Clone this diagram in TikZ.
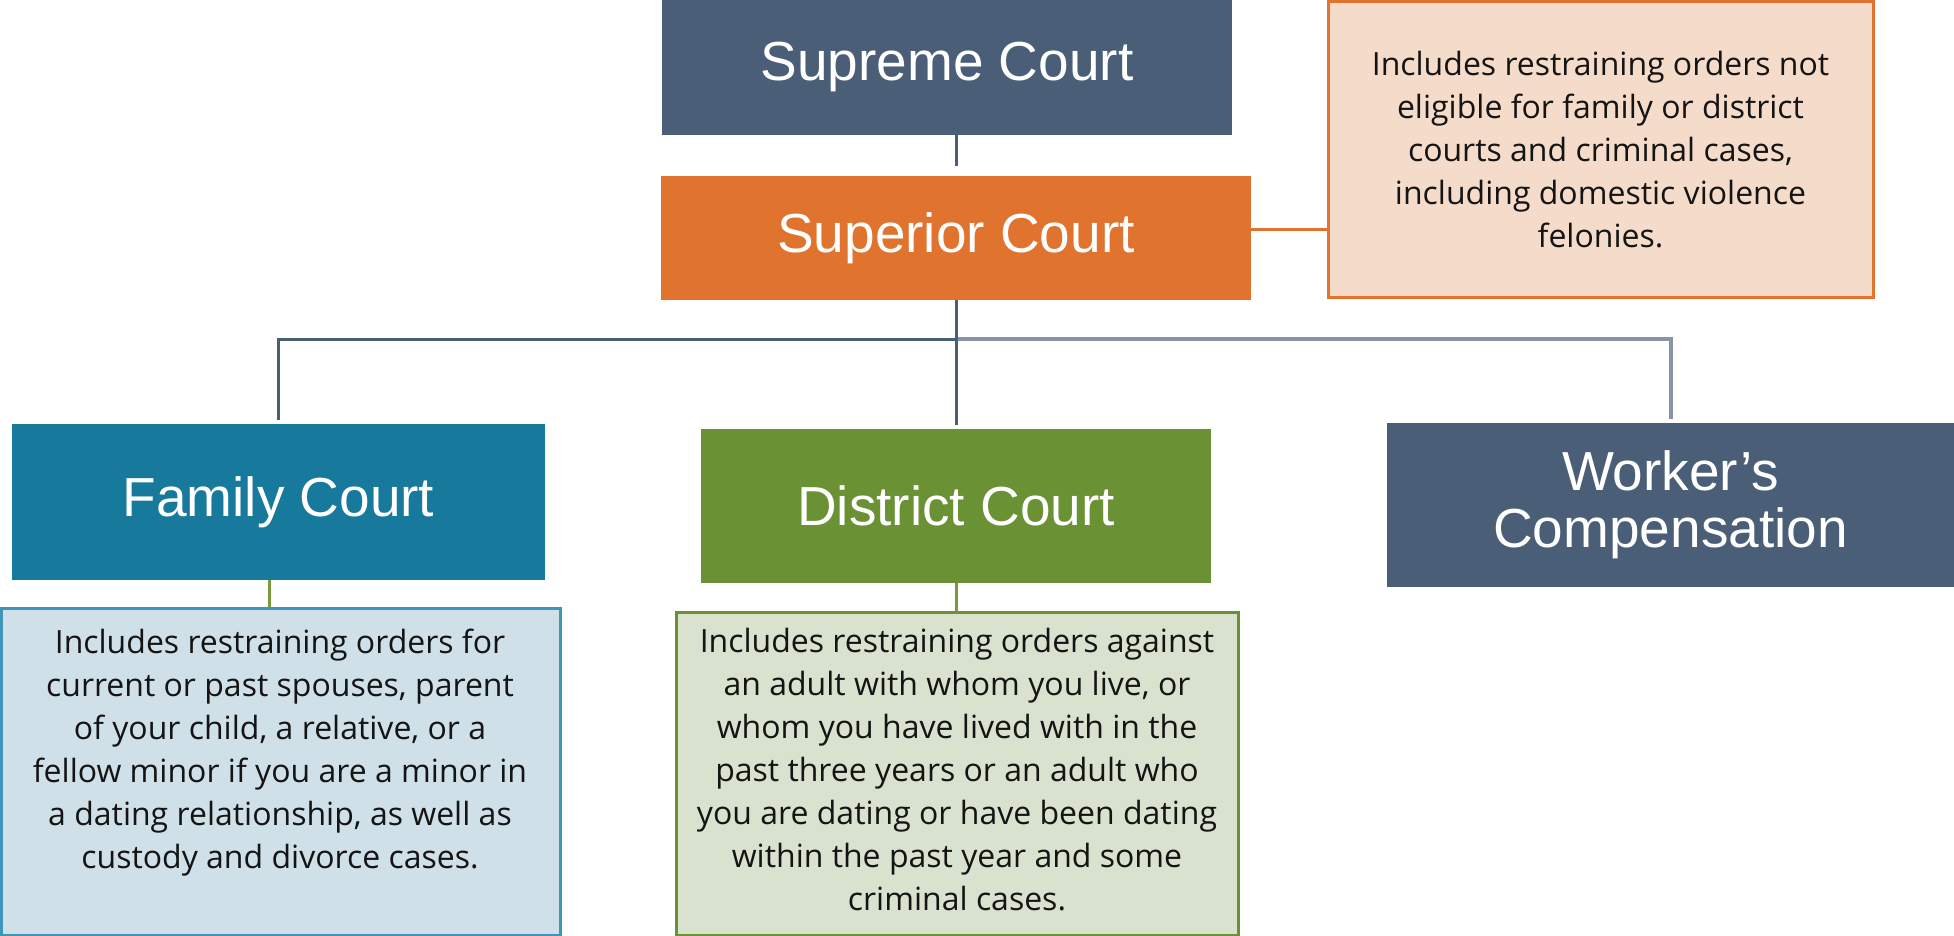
\documentclass[tikz,border=0pt]{standalone}
\usepackage{fontspec}
\setmainfont{Liberation Sans}
\newfontfamily\bodyfont{Open Sans}
\usetikzlibrary{positioning}

\definecolor{slate}{HTML}{4A5E78}
\definecolor{courtorange}{HTML}{E0742F}
\definecolor{orangefill}{HTML}{F5DBCA}
\definecolor{familyblue}{HTML}{17799C}
\definecolor{familyfill}{HTML}{D0E0E8}
\definecolor{familyedge}{HTML}{3F95B5}
\definecolor{districtgreen}{HTML}{6A9133}
\definecolor{districtfill}{HTML}{D9E1CF}
\definecolor{lightbus}{HTML}{8794A5}
\definecolor{lightdrop}{HTML}{A9B3BD}
\definecolor{stemgreen}{HTML}{7A9A3C}
\definecolor{bodyink}{HTML}{141414}

\tikzset{
  courtbox/.style={rectangle, inner sep=0pt, text=white, align=center,
    font=\fontsize{27.5}{28.6}\selectfont},
  notebox/.style={rectangle, inner sep=0pt, line width=1.5pt},
  notetext/.style={inner sep=0pt, align=center, text=bodyink,
    font=\bodyfont\fontsize{16}{21.5}\selectfont},
  slateline/.style={draw=slate, line width=1.5pt},
  orangeline/.style={draw=courtorange, line width=1.5pt},
  lightline/.style={draw=lightbus, line width=2pt},
  greenline/.style={draw=stemgreen, line width=1.5pt},
}

\begin{document}
\begin{tikzpicture}[x=0.5pt, y=-0.5pt]
  \useasboundingbox (0,0) rectangle (1954,936);

  % court boxes
  \node[courtbox, fill=slate, minimum width=285pt, minimum height=67.5pt]
    (supreme) at (947,67.5) {Supreme Court};
  \node[courtbox, fill=courtorange, minimum width=295pt, minimum height=62pt]
    (superior) at (956,238) {Superior Court};
  \node[courtbox, fill=familyblue, minimum width=266.5pt, minimum height=78pt]
    (family) at (278.5,502) {Family Court};
  \node[courtbox, fill=districtgreen, minimum width=255pt, minimum height=77pt]
    (district) at (956,506) {District Court};
  \node[courtbox, fill=slate, minimum width=283.5pt, minimum height=82pt]
    (workers) at (1670.5,505) {Worker's\\Compensation};

  % description boxes
  \node[notebox, draw=courtorange, fill=orangefill, minimum width=272.5pt, minimum height=148pt]
    (supnotebox) at (1600.5,150) {};
  \node[notetext] (supnote) at (supnotebox.center)
    {Includes restraining orders not\\eligible for family or district\\courts and criminal cases,\\including domestic violence\\felonies.};

  \node[notebox, draw=familyedge, fill=familyfill, minimum width=279.5pt, minimum height=163.5pt]
    (famnotebox) at (280.5,771.5) {};
  \node[notetext] (famnote) at (280,753)
    {Includes restraining orders for\\current or past spouses, parent\\of your child, a relative, or a\\fellow minor if you are a minor in\\a dating relationship, as well as\\custody and divorce cases.};

  \node[notebox, draw=districtgreen, fill=districtfill, minimum width=281pt, minimum height=161.5pt]
    (distnotebox) at (957,773.5) {};
  \node[notetext] (distnote) at (957,770)
    {Includes restraining orders against\\an adult with whom you live, or\\whom you have lived with in the\\past three years or an adult who\\you are dating or have been dating\\within the past year and some\\criminal cases.};

  % connectors
  \coordinate (busy) at (0,339);
  \draw[slateline, shorten >=5pt] (supreme.south -| superior.north) -- (superior.north);
  \draw[orangeline] ([yshift=4pt]superior.east) -- ([yshift=4pt]superior.east -| supnotebox.west);
  \draw[lightline, shorten >=2pt] (superior.south |- busy) -| (workers.north);
  \draw[slateline, shorten >=2pt] (superior.south |- busy) -| (family.north);
  \draw[slateline, shorten >=2pt] (superior.south) -- (district.north);
  \draw[greenline] ([xshift=-4.5pt]family.south) -- ([xshift=-4.5pt]family.south |- famnotebox.north);
  \draw[greenline] (district.south) -- (district.south |- distnotebox.north);
\end{tikzpicture}
\end{document}
